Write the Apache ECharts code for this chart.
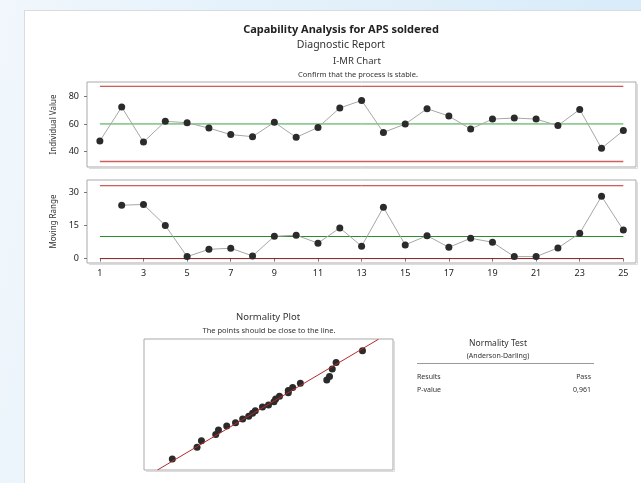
<!DOCTYPE html>
<html><head><meta charset="utf-8">
<script src="https://cdn.jsdelivr.net/npm/echarts@6/dist/echarts.min.js"></script>
<style>
html,body{margin:0;padding:0;width:641px;height:483px;overflow:hidden;}
body{background:linear-gradient(100deg,#f1f7fc 0%,#e6f2fb 30%,#d6eaf8 100%);position:relative;}
#panel{position:absolute;left:24px;top:10px;right:-2px;bottom:-2px;background:#fff;border-left:1px solid #d9dde0;border-top:1px solid #d9dde0;}
#chart{position:absolute;left:0;top:0;width:641px;height:483px;}
</style></head>
<body><div id="panel"></div><div id="chart"></div>
<script>
// ---- data ----
const observations = [1,2,3,4,5,6,7,8,9,10,11,12,13,14,15,16,17,18,19,20,21,22,23,24,25];
const individualValues = [47.7,72.2,46.9,61.9,60.9,57.0,52.3,50.8,61.2,50.3,57.5,71.5,77.0,53.9,59.9,71.0,65.7,56.3,63.5,64.3,63.5,58.8,70.5,42.4,55.2];
const movingRanges = [null,24.2,24.5,15.0,0.9,4.2,4.7,1.2,10.1,10.6,7.0,13.9,5.6,23.2,6.2,10.4,5.1,9.2,7.4,0.9,0.9,4.8,11.5,28.2,12.9];
const iLimits = {ucl: 87.2, cl: 60.0, lcl: 32.8};
const mrLimits = {ucl: 33.0, cl: 10.0, lcl: 0};
const xTickLabels = [1,3,5,7,9,11,13,15,17,19,21,23,25];
const iTickLabels = [40,60,80];
const mrTickLabels = [0,15,30];
const normValues = [42.4,46.9,47.7,50.3,50.8,52.3,53.9,55.2,56.3,57.0,57.5,58.8,59.9,60.9,61.2,61.9,63.5,63.5,64.3,65.7,70.5,71.0,71.5,72.2,77.0];
const normScores = [-1.96,-1.53,-1.30,-1.07,-0.91,-0.76,-0.64,-0.51,-0.41,-0.30,-0.21,-0.07,0.00,0.12,0.22,0.32,0.45,0.53,0.64,0.79,0.91,1.04,1.31,1.55,1.97];
const fitLine = [[39.7,-2.36],[79.9,2.39]];
const testRows = [["Results","Pass"],["P-value","0,961"]];

const FONT = 'Noto Sans';
const chart = echarts.init(document.getElementById('chart'), null, {renderer:'canvas'});
const pair = (xs, ys) => xs.map((x,i)=>[x, ys[i]]);
const limitLine = (v) => [[observations[0], v],[observations[observations.length-1], v]];

const gridBoxes = [
  {left:87, top:82, width:549, height:85},
  {left:87, top:180, width:549, height:83},
  {left:144, top:339, width:249, height:131}
];
const grids = gridBoxes.map(g => Object.assign({show:true, borderColor:'#a9a9a9', borderWidth:1, backgroundColor:'transparent', outerBoundsMode:'none', containLabel:false}, g));
const shadows = gridBoxes.map(g => ({type:'polyline', z:-1, silent:true,
  shape:{points:[[g.left+g.width+1.5, g.top+2],[g.left+g.width+1.5, g.top+g.height+1.5],[g.left+2, g.top+g.height+1.5]]},
  style:{fill:'none', stroke:'#dcdcdc', lineWidth:1}}));

const xBase = {type:'value', min:0.41, max:25.58, splitLine:{show:false}, axisLine:{show:false}};
const option = {
  animation:false,
  textStyle:{fontFamily:FONT},
  grid: grids,
  xAxis: [
    Object.assign({gridIndex:0, axisLabel:{show:false}, axisTick:{show:false}}, xBase),
    Object.assign({gridIndex:1, axisLabel:{customValues:xTickLabels, fontSize:9, color:'#222', margin:6},
      axisTick:{customValues:xTickLabels, length:3, lineStyle:{color:'#777'}}}, xBase),
    {gridIndex:2, type:'value', min:37.25, max:82.55, show:false}
  ],
  yAxis: [
    {gridIndex:0, type:'value', min:28.9, max:90.3, splitLine:{show:false}, axisLine:{show:false},
     axisLabel:{customValues:iTickLabels, fontSize:9, color:'#222', margin:8},
     axisTick:{customValues:iTickLabels, length:3, lineStyle:{color:'#777'}},
     name:'Individual Value', nameLocation:'middle', nameGap:27, nameTextStyle:{fontSize:8, color:'#333'}},
    {gridIndex:1, type:'value', min:-2.0, max:35.6, splitLine:{show:false}, axisLine:{show:false},
     axisLabel:{customValues:mrTickLabels, fontSize:9, color:'#222', margin:8},
     axisTick:{customValues:mrTickLabels, length:3, lineStyle:{color:'#777'}},
     name:'Moving Range', nameLocation:'middle', nameGap:27, nameTextStyle:{fontSize:8, color:'#333'}},
    {gridIndex:2, type:'value', min:-2.36, max:2.40, show:false}
  ],
  series: [
    {type:'line', xAxisIndex:0, yAxisIndex:0, data:limitLine(iLimits.ucl), symbol:'none', lineStyle:{color:'#c0302b', width:1}, silent:true},
    {type:'line', xAxisIndex:0, yAxisIndex:0, data:limitLine(iLimits.cl), symbol:'none', lineStyle:{color:'#3ca445', width:1}, silent:true},
    {type:'line', xAxisIndex:0, yAxisIndex:0, data:limitLine(iLimits.lcl), symbol:'none', lineStyle:{color:'#d06060', width:1.5}, silent:true},
    {type:'line', xAxisIndex:0, yAxisIndex:0, data:pair(observations, individualValues), symbol:'circle', symbolSize:7,
     itemStyle:{color:'#2b2b2b'}, lineStyle:{color:'#a6a6a6', width:1}},
    {type:'line', xAxisIndex:1, yAxisIndex:1, data:limitLine(mrLimits.ucl), symbol:'none', lineStyle:{color:'#c0302b', width:1}, silent:true},
    {type:'line', xAxisIndex:1, yAxisIndex:1, data:limitLine(mrLimits.cl), symbol:'none', lineStyle:{color:'#2a8c2a', width:1}, silent:true},
    {type:'line', xAxisIndex:1, yAxisIndex:1, data:limitLine(mrLimits.lcl), symbol:'none', lineStyle:{color:'#8b1e1e', width:1}, silent:true},
    {type:'line', xAxisIndex:1, yAxisIndex:1, data:pair(observations, movingRanges), symbol:'circle', symbolSize:7,
     itemStyle:{color:'#2b2b2b'}, lineStyle:{color:'#a6a6a6', width:1}},
    {type:'line', xAxisIndex:2, yAxisIndex:2, data:fitLine, symbol:'none', lineStyle:{color:'#b52a2a', width:1}, silent:true},
    {type:'scatter', xAxisIndex:2, yAxisIndex:2, data:pair(normValues, normScores), symbolSize:7, itemStyle:{color:'#2b2b2b', opacity:1}}
  ],
  graphic: shadows.concat([
    {type:'text', x:341, y:30, style:{text:'Capability Analysis for APS soldered', font:'bold 11px '+FONT, fill:'#222', align:'center', verticalAlign:'middle'}},
    {type:'text', x:341, y:45, style:{text:'Diagnostic Report', font:'10.5px '+FONT, fill:'#333', align:'center', verticalAlign:'middle'}},
    {type:'text', x:357, y:61, style:{text:'I-MR Chart', font:'9.5px '+FONT, fill:'#333', align:'center', verticalAlign:'middle'}},
    {type:'text', x:358, y:75, style:{text:'Confirm that the process is stable.', font:'7.5px '+FONT, fill:'#333', align:'center', verticalAlign:'middle'}},
    {type:'text', x:268, y:317, style:{text:'Normality Plot', font:'9.5px '+FONT, fill:'#333', align:'center', verticalAlign:'middle'}},
    {type:'text', x:269, y:331, style:{text:'The points should be close to the line.', font:'7.5px '+FONT, fill:'#333', align:'center', verticalAlign:'middle'}},
    {type:'text', x:498, y:344, style:{text:'Normality Test', font:'8.5px '+FONT, fill:'#333', align:'center', verticalAlign:'middle'}},
    {type:'text', x:498, y:356, style:{text:'(Anderson-Darling)', font:'7px '+FONT, fill:'#333', align:'center', verticalAlign:'middle'}},
    {type:'line', shape:{x1:417, y1:363.5, x2:594, y2:363.5}, style:{stroke:'#9a9a9a', lineWidth:1}},
    {type:'text', x:417, y:377, style:{text:testRows[0][0], font:'7px '+FONT, fill:'#333', align:'left', verticalAlign:'middle'}},
    {type:'text', x:591, y:377, style:{text:testRows[0][1], font:'7px '+FONT, fill:'#333', align:'right', verticalAlign:'middle'}},
    {type:'text', x:417, y:390, style:{text:testRows[1][0], font:'7px '+FONT, fill:'#333', align:'left', verticalAlign:'middle'}},
    {type:'text', x:591, y:390, style:{text:testRows[1][1], font:'7px '+FONT, fill:'#333', align:'right', verticalAlign:'middle'}}
  ])
};
chart.setOption(option);
</script></body></html>
